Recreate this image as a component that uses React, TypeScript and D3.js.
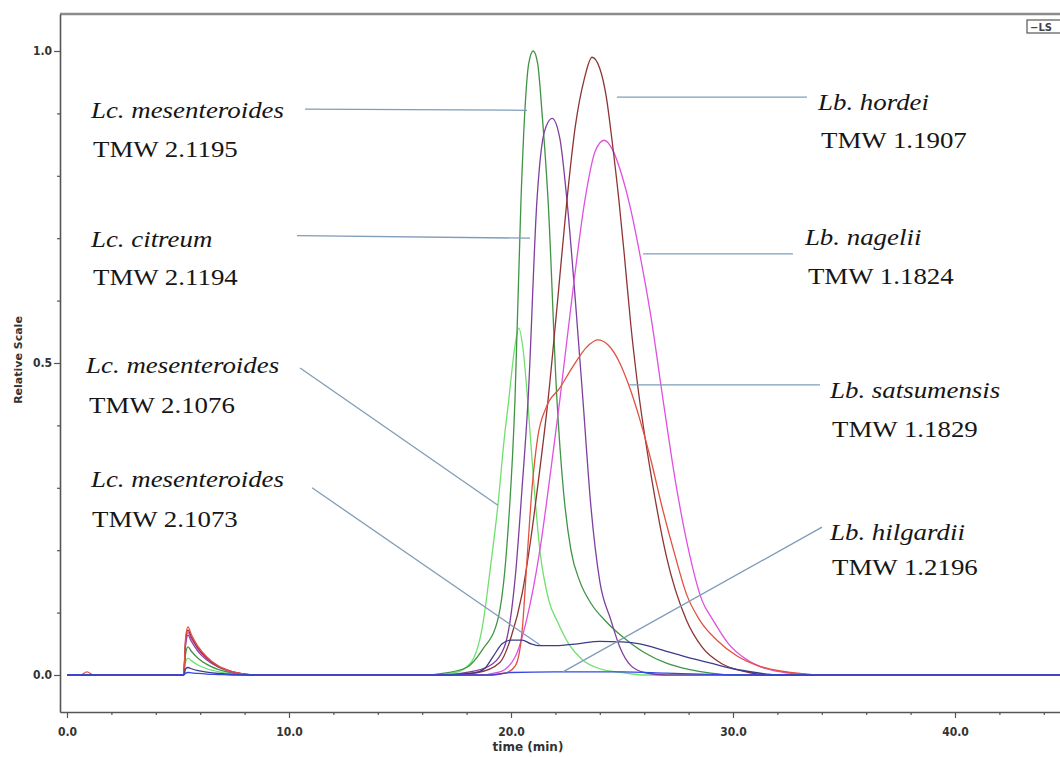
import React, { useEffect, useRef } from 'react';
import * as d3 from 'd3';

type Pt = [number, number];

// [time (min), relative scale]
const lcMes2_1076: Pt[] = [[0,0],[5.25,0],[5.35,0.022],[5.45,0.027],[5.6,0.023],[5.9,0.016],[6.3,0.01],[6.8,0.0054],[7.4,0.002],[8.0,0.0005],[8.6,0],[16.5,0],[17.5,0.004],[18.2,0.02],[18.7,0.075],[19.1,0.18],[19.41,0.272],[19.7,0.38],[19.9,0.441],[20.15,0.52],[20.35,0.556],[20.55,0.52],[20.75,0.441],[21.0,0.32],[21.3,0.2],[21.7,0.12],[22.1,0.085],[22.6,0.05],[23.2,0.025],[24.0,0.01],[25,0.004],[26,0],[46,0]];

const lcMes2_1195: Pt[] = [[0,0],[5.25,0],[5.35,0.036],[5.45,0.045],[5.6,0.038],[5.9,0.027],[6.3,0.017],[6.8,0.009],[7.4,0.0036],[8.0,0.001],[8.6,0],[16,0],[17,0.003],[18,0.012],[18.7,0.04],[19.4,0.088],[19.8,0.2],[20.18,0.441],[20.45,0.761],[20.63,0.907],[20.8,0.98],[21.0,1.0],[21.2,0.98],[21.4,0.9],[21.67,0.761],[22.07,0.441],[22.35,0.3],[22.7,0.2],[23.1,0.15],[23.6,0.115],[24.3,0.085],[25,0.062],[26,0.036],[27,0.019],[28,0.009],[29,0.003],[30,0],[46,0]];

const lcCitreum2_1194: Pt[] = [[0,0],[5.25,0],[5.35,0.051],[5.45,0.064],[5.6,0.054],[5.9,0.038],[6.3,0.024],[6.8,0.013],[7.4,0.005],[8.0,0.0013],[8.6,0],[17,0],[18,0.004],[19,0.014],[19.7,0.045],[20.2,0.16],[20.5,0.3],[20.77,0.441],[21.17,0.761],[21.5,0.87],[21.85,0.892],[22.2,0.86],[22.52,0.761],[22.9,0.6],[23.24,0.441],[23.6,0.27],[24.0,0.15],[24.5,0.088],[24.9,0.045],[25.4,0.015],[26,0.004],[27,0],[46,0]];

const lbNagelii1_1824: Pt[] = [[0,0],[5.25,0],[5.35,0.054],[5.45,0.068],[5.6,0.058],[5.9,0.041],[6.3,0.026],[6.8,0.014],[7.4,0.005],[8.0,0.0014],[8.6,0],[18.5,0],[19.5,0.005],[20.2,0.03],[20.7,0.088],[21.3,0.2],[21.8,0.33],[22.2,0.441],[22.8,0.62],[23.33,0.761],[23.8,0.84],[24.2,0.857],[24.6,0.84],[25.0,0.8],[25.4,0.745],[25.8,0.675],[26.3,0.575],[26.85,0.441],[27.4,0.312],[28.0,0.2],[28.6,0.12],[29.1,0.088],[29.8,0.05],[30.6,0.025],[31.5,0.01],[32.5,0.003],[33.5,0],[46,0]];

const lbHordei1_1907: Pt[] = [[0,0],[5.25,0],[5.35,0.058],[5.45,0.072],[5.6,0.061],[5.9,0.043],[6.3,0.027],[6.8,0.014],[7.4,0.006],[8.0,0.0015],[8.6,0],[17,0],[18.5,0.004],[19.5,0.02],[20.0,0.06],[20.5,0.13],[20.9,0.22],[21.3,0.33],[21.67,0.441],[22.1,0.6],[22.52,0.761],[22.9,0.88],[23.3,0.955],[23.65,0.99],[24.0,0.972],[24.3,0.925],[24.55,0.857],[24.86,0.761],[25.1,0.675],[25.4,0.56],[25.7,0.466],[26.35,0.312],[27.0,0.19],[27.9,0.088],[28.6,0.045],[29.5,0.018],[30.5,0.006],[31.5,0],[46,0]];

const lbSatsumensis1_1829: Pt[] = [[0,0],[0.6,0],[0.9,0.005],[1.2,0],[5.25,0],[5.35,0.062],[5.45,0.077],[5.6,0.065],[5.9,0.046],[6.3,0.029],[6.8,0.015],[7.4,0.006],[8.0,0.0015],[8.6,0],[19,0],[19.8,0.004],[20.2,0.015],[20.5,0.07],[20.75,0.2],[20.95,0.3],[21.2,0.38],[21.6,0.43],[22.2,0.46],[22.8,0.495],[23.4,0.525],[23.9,0.537],[24.4,0.528],[24.9,0.5],[25.3,0.465],[25.8,0.41],[26.3,0.345],[26.8,0.27],[27.4,0.19],[27.9,0.13],[28.5,0.088],[29.3,0.055],[30.2,0.03],[31.2,0.014],[32.2,0.006],[33.2,0.002],[34,0],[46,0]];

const lcMes2_1073: Pt[] = [[0,0],[5.25,0],[5.35,0.01],[5.45,0.012],[5.6,0.01],[5.9,0.007],[6.3,0.0046],[6.8,0.0024],[7.4,0.001],[8.0,0],[17,0],[18.3,0.003],[18.8,0.01],[19.2,0.03],[19.6,0.05],[20.0,0.056],[20.5,0.056],[20.9,0.05],[21.3,0.047],[22,0.047],[23,0.05],[24,0.054],[25,0.053],[25.8,0.05],[27,0.038],[28,0.028],[29,0.019],[30,0.01],[31,0.004],[32,0],[46,0]];

const lbHilgardii1_2196: Pt[] = [[0,0],[5.25,0],[5.35,0.003],[5.45,0.004],[5.6,0.0035],[5.9,0.0025],[6.3,0.0015],[6.8,0.0008],[7.4,0],[19,0],[20,0.004],[22,0.005],[25,0.005],[27,0.003],[29,0.001],[31,0],[46,0]];

const series = [
  { id: 'lc2_1076', color: '#6fe06f', points: lcMes2_1076 },
  { id: 'lc2_1195', color: '#3f9444', points: lcMes2_1195 },
  { id: 'lc2_1194', color: '#7e3f9e', points: lcCitreum2_1194 },
  { id: 'lb1_1824', color: '#e050e0', points: lbNagelii1_1824 },
  { id: 'lb1_1907', color: '#8e3434', points: lbHordei1_1907 },
  { id: 'lb1_1829', color: '#e2513f', points: lbSatsumensis1_1829 },
  { id: 'lc2_1073', color: '#3c3c8c', points: lcMes2_1073 },
  { id: 'lb1_2196', color: '#3348e0', points: lbHilgardii1_2196 },
];

const xMajor = [0, 10, 20, 30, 40];
const xMinor = [2, 4, 6, 8, 12, 14, 16, 18, 22, 24, 26, 28, 32, 34, 36, 38, 42, 44];
const yMajor = [0, 0.5, 1.0];
const yMinor = [0.1, 0.2, 0.3, 0.4, 0.6, 0.7, 0.8, 0.9];

// label anchor (data coords), strain-line offset (px), leader line (data coords)
const annotations = [
  { species: 'Lc. mesenteroides', strain: 'TMW 2.1195', at: [1.08, 0.893], off: [2, 39], line: [[10.72, 0.907], [20.72, 0.905]] },
  { species: 'Lc. citreum', strain: 'TMW 2.1194', at: [1.08, 0.686], off: [2, 38], line: [[10.36, 0.704], [20.86, 0.7]] },
  { species: 'Lc. mesenteroides', strain: 'TMW 2.1076', at: [0.86, 0.484], off: [3, 40], line: [[10.5, 0.492], [19.41, 0.272]] },
  { species: 'Lc. mesenteroides', strain: 'TMW 2.1073', at: [1.08, 0.301], off: [1, 40], line: [[11.04, 0.3], [21.31, 0.048]] },
  { species: 'Lb. hordei', strain: 'TMW 1.1907', at: [33.83, 0.905], off: [3, 38], line: [[24.77, 0.926], [33.33, 0.926]] },
  { species: 'Lb. nagelii', strain: 'TMW 1.1824', at: [33.24, 0.689], off: [3, 39], line: [[25.95, 0.675], [32.7, 0.675]] },
  { species: 'Lb. satsumensis', strain: 'TMW 1.1829', at: [34.37, 0.444], off: [2, 39], line: [[25.32, 0.465], [33.92, 0.465]] },
  { species: 'Lb. hilgardii', strain: 'TMW 1.2196', at: [34.37, 0.216], off: [2, 35], line: [[34.01, 0.237], [22.34, 0.005]] },
];

const AXIS_FONT = '"DejaVu Sans", Verdana, sans-serif';
const LABEL_FONT = '"Liberation Serif", "Times New Roman", serif';

const Chromatogram = () => {
  const svgRef = useRef<SVGSVGElement>(null);

  useEffect(() => {
    const svg = d3.select(svgRef.current);
    svg.selectAll('*').remove();

    const x = d3.scaleLinear().domain([-0.315, 44.73]).range([60, 1060]);
    const y = d3.scaleLinear().domain([-0.0593, 1.0593]).range([712, 14]);
    const fmt = d3.format('.1f');

    svg.append('rect').attr('width', 1060).attr('height', 757).attr('fill', '#fff');

    // top frame line
    svg.append('line')
      .attr('x1', x.range()[0]).attr('x2', x.range()[1])
      .attr('y1', y.range()[1]).attr('y2', y.range()[1])
      .attr('stroke', '#8c8c8c').attr('stroke-width', 2.5);

    // y axis
    const yAxis = svg.append('g').attr('transform', `translate(${x.range()[0]},0)`)
      .call(d3.axisLeft(y).tickValues(yMajor).tickFormat(d => fmt(d as number)).tickSize(6).tickSizeOuter(0).tickPadding(2));
    svg.append('g').attr('transform', `translate(${x.range()[0]},0)`)
      .call(d3.axisLeft(y).tickValues(yMinor).tickFormat(() => '').tickSize(3).tickSizeOuter(0))
      .call(g => g.select('.domain').remove());

    // x axis
    const xAxis = svg.append('g').attr('transform', `translate(0,${y.range()[0]})`)
      .call(d3.axisBottom(x).tickValues(xMajor).tickFormat(d => fmt(d as number)).tickSize(6).tickSizeOuter(0).tickPadding(9));
    svg.append('g').attr('transform', `translate(0,${y.range()[0]})`)
      .call(d3.axisBottom(x).tickValues(xMinor).tickFormat(() => '').tickSize(3).tickSizeOuter(0))
      .call(g => g.select('.domain').remove());

    svg.selectAll('.domain').attr('stroke', '#555').attr('stroke-width', 1.6);
    svg.selectAll('.tick line').attr('stroke', '#555').attr('stroke-width', 1.2);
    [xAxis, yAxis].forEach(a => a.selectAll('text')
      .attr('font-family', AXIS_FONT).attr('font-size', 12).attr('font-weight', 'bold')
      .attr('font-stretch', 'condensed').attr('fill', '#333'));

    svg.append('text')
      .attr('x', 528).attr('y', 751).attr('text-anchor', 'middle')
      .attr('font-family', AXIS_FONT).attr('font-size', 12).attr('font-weight', 'bold').attr('fill', '#333')
      .text('time (min)');
    svg.append('text')
      .attr('transform', 'translate(22,360) rotate(-90)').attr('text-anchor', 'middle')
      .attr('font-family', AXIS_FONT).attr('font-size', 11).attr('font-weight', 'bold').attr('fill', '#333')
      .text('Relative Scale');

    // LS legend box (cut at the right edge)
    svg.append('rect').attr('x', 1027).attr('y', 20).attr('width', 40).attr('height', 13)
      .attr('fill', '#fff').attr('stroke', '#555').attr('stroke-width', 1.2);
    svg.append('text').attr('x', 1030).attr('y', 30.5)
      .attr('font-family', AXIS_FONT).attr('font-size', 10).attr('font-weight', 'bold').attr('fill', '#444')
      .text('\u2212LS');

    // traces
    const line = d3.line<Pt>().x(d => x(d[0])).y(d => y(d[1])).curve(d3.curveMonotoneX);
    svg.append('g').selectAll('path')
      .data(series)
      .enter()
      .append('path')
      .attr('d', d => line(d.points))
      .attr('fill', 'none')
      .attr('stroke', d => d.color)
      .attr('stroke-width', 1.3);

    // leader lines
    svg.append('g').selectAll('line')
      .data(annotations)
      .enter()
      .append('line')
      .attr('x1', d => x(d.line[0][0])).attr('y1', d => y(d.line[0][1]))
      .attr('x2', d => x(d.line[1][0])).attr('y2', d => y(d.line[1][1]))
      .attr('stroke', '#7f9db8').attr('stroke-width', 1.3);

    // labels
    const lbl = svg.append('g').selectAll('g')
      .data(annotations)
      .enter()
      .append('g')
      .attr('font-family', LABEL_FONT).attr('font-size', 24).attr('fill', '#161616');
    lbl.append('text')
      .attr('transform', d => `translate(${x(d.at[0])},${y(d.at[1])}) scale(1.12,1)`)
      .attr('font-style', 'italic')
      .text(d => d.species);
    lbl.append('text')
      .attr('transform', d => `translate(${x(d.at[0]) + d.off[0]},${y(d.at[1]) + d.off[1]}) scale(1.12,1)`)
      .text(d => d.strain);
  }, []);

  return (
    <svg ref={svgRef} width={1060} height={757} style={{ position: 'absolute', left: 0, top: 0 }} />
  );
};

export default function App() {
  return <Chromatogram />;
}
